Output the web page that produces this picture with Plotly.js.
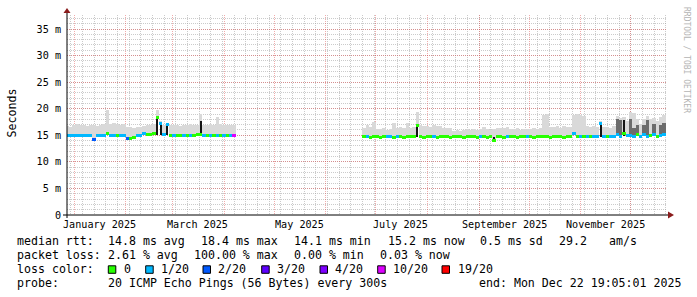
<!DOCTYPE html>
<html><head><meta charset="utf-8">
<script src="https://cdn.plot.ly/plotly-3.0.1.min.js"></script>
<style>html,body{margin:0;padding:0;background:#fff}#chart{width:697px;height:297px}</style>
</head><body><div id="chart"></div>
<script>
// ---------------- data ----------------
const sampleDates = [
'2024-12-28','2024-12-30','2025-01-01','2025-01-03','2025-01-05','2025-01-07','2025-01-09','2025-01-11','2025-01-13','2025-01-15',
'2025-01-17','2025-01-19','2025-01-21','2025-01-23','2025-01-25','2025-01-27','2025-01-29','2025-01-31','2025-02-02','2025-02-04',
'2025-02-06','2025-02-08','2025-02-10','2025-02-12','2025-02-14','2025-02-16','2025-02-18','2025-02-20','2025-02-22','2025-02-24',
'2025-02-26','2025-02-28','2025-03-02','2025-03-04','2025-03-06','2025-03-08','2025-03-10','2025-03-12','2025-03-14','2025-03-16',
'2025-03-18','2025-03-20','2025-03-22','2025-03-24','2025-03-26','2025-03-28','2025-03-30','2025-04-01','2025-04-03','2025-04-05',
'2025-04-07',
'2025-06-24','2025-06-26','2025-06-28','2025-06-30',
'2025-07-02','2025-07-04','2025-07-06','2025-07-08','2025-07-10','2025-07-12','2025-07-14','2025-07-16','2025-07-18','2025-07-20','2025-07-22','2025-07-24','2025-07-26','2025-07-28','2025-07-30',
'2025-08-01','2025-08-03','2025-08-05','2025-08-07','2025-08-09','2025-08-11','2025-08-13','2025-08-15','2025-08-17','2025-08-19','2025-08-21','2025-08-23','2025-08-25','2025-08-27','2025-08-29','2025-08-31',
'2025-09-02','2025-09-04','2025-09-06','2025-09-08','2025-09-10','2025-09-12','2025-09-14','2025-09-16','2025-09-18','2025-09-20','2025-09-22','2025-09-24','2025-09-26','2025-09-28','2025-09-30',
'2025-10-02','2025-10-04','2025-10-06','2025-10-08','2025-10-10','2025-10-12','2025-10-14','2025-10-16','2025-10-18','2025-10-20','2025-10-22','2025-10-24','2025-10-26','2025-10-28','2025-10-30',
'2025-11-01','2025-11-03','2025-11-05','2025-11-07','2025-11-09','2025-11-11','2025-11-13','2025-11-15','2025-11-17','2025-11-19','2025-11-21','2025-11-23','2025-11-25','2025-11-27','2025-11-29',
'2025-12-01','2025-12-03','2025-12-05','2025-12-07','2025-12-09','2025-12-11','2025-12-13','2025-12-15','2025-12-17','2025-12-19','2025-12-21'
];
// median rtt in ms
const medianRtt = [
14.9,14.9,14.9,14.9,14.9,14.9,14.9,14.9,14.3,14.9,
14.9,15.0,15.3,15.0,14.9,15.0,14.9,14.9,14.4,14.4,
14.5,14.9,14.9,15.3,15.1,15.1,15.3,18.4,17.2,15.1,
17.1,15.0,15.0,15.0,15.0,15.0,15.0,15.0,15.0,15.1,
15.1,15.0,15.0,15.0,15.0,15.0,15.0,15.0,15.0,15.0,
15.0,
14.7,14.7,14.6,14.7,
14.7,14.6,14.7,14.7,14.7,14.6,14.7,14.7,14.6,14.7,14.7,14.7,16.9,14.7,14.6,
14.7,14.7,14.7,14.6,14.7,14.7,14.7,14.6,14.7,14.7,14.7,14.6,14.7,14.7,14.7,14.6,
14.7,14.7,14.6,14.7,14.1,14.7,14.7,14.6,14.7,14.7,14.7,14.6,14.7,14.7,14.7,
14.7,14.6,14.7,14.7,14.7,14.7,14.6,14.7,14.7,14.7,14.6,14.7,14.7,15.3,14.7,
14.7,14.8,14.7,14.7,14.8,14.7,17.2,14.7,14.8,14.7,14.7,15.2,14.8,15.3,14.9,
15.0,14.8,15.1,14.8,15.2,14.8,14.9,15.1,14.8,15.0,15.2
];
// lost pings out of 20
const lossCount = [
1,1,1,1,1,1,1,1,2,1,
1,1,0,1,1,0,1,1,2,0,
0,1,1,1,0,0,0,0,1,1,
1,0,1,0,0,1,0,1,0,0,
0,1,0,1,0,1,0,1,0,1,
10,
0,1,0,0,
0,0,0,1,1,0,1,0,0,0,0,0,0,0,0,
0,0,1,0,0,0,0,0,0,0,0,0,0,0,0,0,
1,0,0,0,0,0,0,0,1,0,0,0,0,0,1,
0,0,0,0,0,0,0,0,0,0,0,0,0,1,0,
1,0,1,0,1,1,1,1,0,1,1,1,1,0,1,
1,1,0,1,1,1,0,1,0,1,1
];
// top of the light smoke (ms)
const smokeTop = [
16.8,16.6,17.0,17.1,16.9,17.0,16.8,17.0,16.9,16.8,
17.0,17.1,19.8,17.2,17.3,17.2,17.0,17.1,16.6,16.5,
16.4,16.5,16.6,16.7,16.9,17.0,17.1,19.8,17.6,17.0,
17.4,16.9,17.0,17.0,16.8,17.0,16.9,17.1,16.9,17.0,
19.1,17.0,17.0,17.1,16.9,18.5,17.1,17.0,17.0,16.9,
16.9,
16.4,17.0,16.6,17.5,
16.2,16.1,16.3,16.0,16.2,17.4,16.3,16.5,16.3,17.4,16.4,16.6,19.4,16.9,16.7,
16.8,16.6,16.9,16.7,16.8,16.4,16.3,16.4,15.9,16.0,15.9,16.0,16.1,16.0,16.1,16.0,
16.1,16.6,16.1,16.0,16.1,16.3,16.4,16.3,16.6,16.2,16.1,16.3,16.0,16.2,16.1,
16.2,16.3,16.2,16.4,18.8,19.1,16.6,16.5,16.8,16.4,16.7,16.5,16.6,18.9,19.1,
18.8,18.6,16.8,16.5,16.7,16.6,17.6,16.5,16.6,16.4,16.7,18.6,18.2,18.4,17.6,
19.4,19.2,18.0,17.2,18.1,18.7,18.0,18.2,17.7,18.5,18.9
];
// dense (dark grey) smoke
const denseDates = ['2025-11-23','2025-11-25','2025-12-01','2025-12-03','2025-12-05','2025-12-09','2025-12-11','2025-12-15','2025-12-19','2025-12-21'];
const denseLow   = [14.8,14.8,14.8,14.8,14.8,14.8,14.8,14.8,14.8,14.8];
const denseHigh  = [18.0,17.8,18.1,16.4,16.9,16.9,17.9,17.2,17.0,17.3];
// darkest smoke columns
const spikeDates = ['2025-02-20','2025-02-22','2025-02-26','2025-03-18','2025-07-26','2025-09-10','2025-11-13','2025-11-27'];
const spikeLow   = [15.1,15.1,15.1,15.1,14.7,14.1,14.7,14.8];
const spikeHigh  = [18.2,17.0,16.9,17.6,16.7,14.7,17.0,17.9];

const monthStarts = ['2025-01-01','2025-02-01','2025-03-01','2025-04-01','2025-05-01','2025-06-01','2025-07-01','2025-08-01','2025-09-01','2025-10-01','2025-11-01','2025-12-01'];
const monthLabelDates = ['2025-01-16','2025-03-16','2025-05-16','2025-07-16','2025-09-16','2025-11-16'];
const monthLabels = ['January 2025','March 2025','May 2025','July 2025','September 2025','November 2025'];
const yTickVals = [0,5,10,15,20,25,30,35];
const yTickText = ['0','5 m','10 m','15 m','20 m','25 m','30 m','35 m'];
const lossLevels = [0,1,2,3,4,10,19];
const lossLabels = ['0','1/20','2/20','3/20','4/20','10/20','19/20'];
const lossColors = ['#26ff00','#00b8ff','#0059ff','#5e00ff','#7e00ff','#dd00ff','#ff0000'];

const statsRtt = ['14.8 ms avg','18.4 ms max','14.1 ms min','15.2 ms now','0.5 ms sd','29.2','am/s'];
const statsLoss = ['2.61 % avg','100.00 % max','0.00 % min','0.03 % now'];
const probeText = '20 ICMP Echo Pings (56 Bytes) every 300s';
const endText = 'end: Mon Dec 22 19:05:01 2025';

// ---------------- drawing ----------------
const DAY = 86400000;
const MONO = 'DejaVu Sans Mono';
const L = 67, T = 15, W = 600, H = 200;
const xp = X => (X - L) / W;
const yp = Y => (T + H - Y) / H;
const nb = s => s.replace(/ /g, '\u00a0');
const colorOf = n => lossColors[lossLevels.indexOf(n)];

const traces = [
  {type:'bar', x:sampleDates, base:medianRtt, y:smokeTop.map((v,i)=>v-medianRtt[i]), width:2*DAY,
   marker:{color:'#d9d9d9', line:{width:0}}, hoverinfo:'skip'},
  {type:'bar', x:denseDates, base:denseLow, y:denseHigh.map((v,i)=>v-denseLow[i]), width:2*DAY,
   marker:{color:'#6c6c6c', line:{width:0}}, hoverinfo:'skip'},
  {type:'bar', x:spikeDates, base:spikeLow, y:spikeHigh.map((v,i)=>v-spikeLow[i]), width:1.2*DAY,
   marker:{color:'#141414', line:{width:0}}, hoverinfo:'skip'},
  {type:'bar', x:sampleDates, base:medianRtt.map(v=>v-0.28), y:medianRtt.map(()=>0.56), width:2*DAY,
   marker:{color:lossCount.map(colorOf), line:{width:0}}, hoverinfo:'skip'}
];

const ann = [];
function txt(X, Y, s, size, extra) {
  ann.push(Object.assign({xref:'paper', yref:'paper', x:xp(X), y:yp(Y), text:nb(s), showarrow:false,
    xanchor:'left', yanchor:'middle', borderpad:0, font:{family:MONO, size:size||11.6, color:'#000'}}, extra||{}));
}
monthLabelDates.forEach((d,i)=>ann.push({xref:'x', yref:'paper', x:d, y:yp(224.5), text:monthLabels[i], showarrow:false,
  xanchor:'center', yanchor:'middle', font:{family:MONO, size:10.15, color:'#000'}}));
ann.push({xref:'paper', yref:'paper', x:xp(11), y:yp(113.5), text:'Seconds', textangle:-90, showarrow:false,
  xanchor:'center', yanchor:'middle', font:{family:MONO, size:11.6, color:'#000'}});
ann.push({xref:'paper', yref:'paper', x:xp(686), y:yp(60), text:'RRDTOOL / TOBI OETIKER', textangle:90, showarrow:false,
  xanchor:'center', yanchor:'middle', font:{family:MONO, size:8, color:'#b4b4b4'}});

const rttX = [107,200,293,386.7,479.3,558.3,607.7];
txt(16,241,'median rtt:'); statsRtt.forEach((s,i)=>txt(rttX[i],241,s));
const lossX = [107,193.3,293.3,379.3];
txt(16,255,'packet loss:'); statsLoss.forEach((s,i)=>txt(lossX[i],255,s));
txt(16,269,'loss color:');
const sqX = [108.3,145.7,203,261.7,320,377.7,442];
const labX = [123,160,217,276,334,392,456.7];
const shapes = [];
lossLabels.forEach((s,i)=>{
  txt(labX[i],269,s);
  shapes.push({type:'rect', xref:'paper', yref:'paper', x0:xp(sqX[i]), x1:xp(sqX[i]+7.5), y0:yp(273.3), y1:yp(265.8),
    fillcolor:lossColors[i], line:{color:'#000', width:1}});
});
txt(16,283,'probe:'); txt(107,283,probeText); txt(478.3,283,endText);

// axes and arrows
shapes.push({type:'line', xref:'paper', yref:'paper', x0:xp(63), x1:xp(669), y0:0, y1:0, line:{color:'#000', width:1}});
shapes.push({type:'line', xref:'paper', yref:'paper', x0:0, x1:0, y0:yp(218), y1:yp(11), line:{color:'#000', width:1}});
shapes.push({type:'path', xref:'paper', yref:'paper',
  path:`M ${xp(668)},${yp(211.5)} L ${xp(668)},${yp(218.5)} L ${xp(674)},${yp(215)} Z`, fillcolor:'#8a1c1c', line:{width:0}});
shapes.push({type:'path', xref:'paper', yref:'paper',
  path:`M ${xp(63.5)},${yp(13)} L ${xp(70.5)},${yp(13)} L ${xp(67)},${yp(8)} Z`, fillcolor:'#8a1c1c', line:{width:0}});

const layout = {
  width:697, height:297, margin:{l:L, r:697-L-W, t:T, b:297-T-H, pad:0},
  paper_bgcolor:'#fff', plot_bgcolor:'#fff', showlegend:false, barmode:'overlay', bargap:0,
  xaxis:{type:'date', range:['2024-12-27 19:05','2025-12-22 19:05'], tickmode:'array', tickvals:monthStarts,
    showticklabels:false, ticks:'', showgrid:true, gridcolor:'rgba(225,70,70,0.45)', griddash:'1px,1px', gridwidth:1,
    minor:{tick0:'2024-12-30', dtick:7*DAY, showgrid:true, gridcolor:'rgba(160,160,160,0.55)', griddash:'1px,1px', gridwidth:1},
    zeroline:false, showline:false, fixedrange:true},
  yaxis:{range:[0,37.64], tickmode:'array', tickvals:yTickVals, ticktext:yTickText, ticks:'', ticklabelstandoff:5,
    tickfont:{family:MONO, size:10.15, color:'#000'}, showgrid:true, gridcolor:'rgba(225,70,70,0.45)', griddash:'1px,1px', gridwidth:1,
    minor:{dtick:1, showgrid:true, gridcolor:'rgba(160,160,160,0.55)', griddash:'1px,1px', gridwidth:1},
    zeroline:false, showline:false, fixedrange:true},
  annotations:ann, shapes:shapes
};
Plotly.newPlot('chart', traces, layout, {staticPlot:true, displayModeBar:false});
</script></body></html>
